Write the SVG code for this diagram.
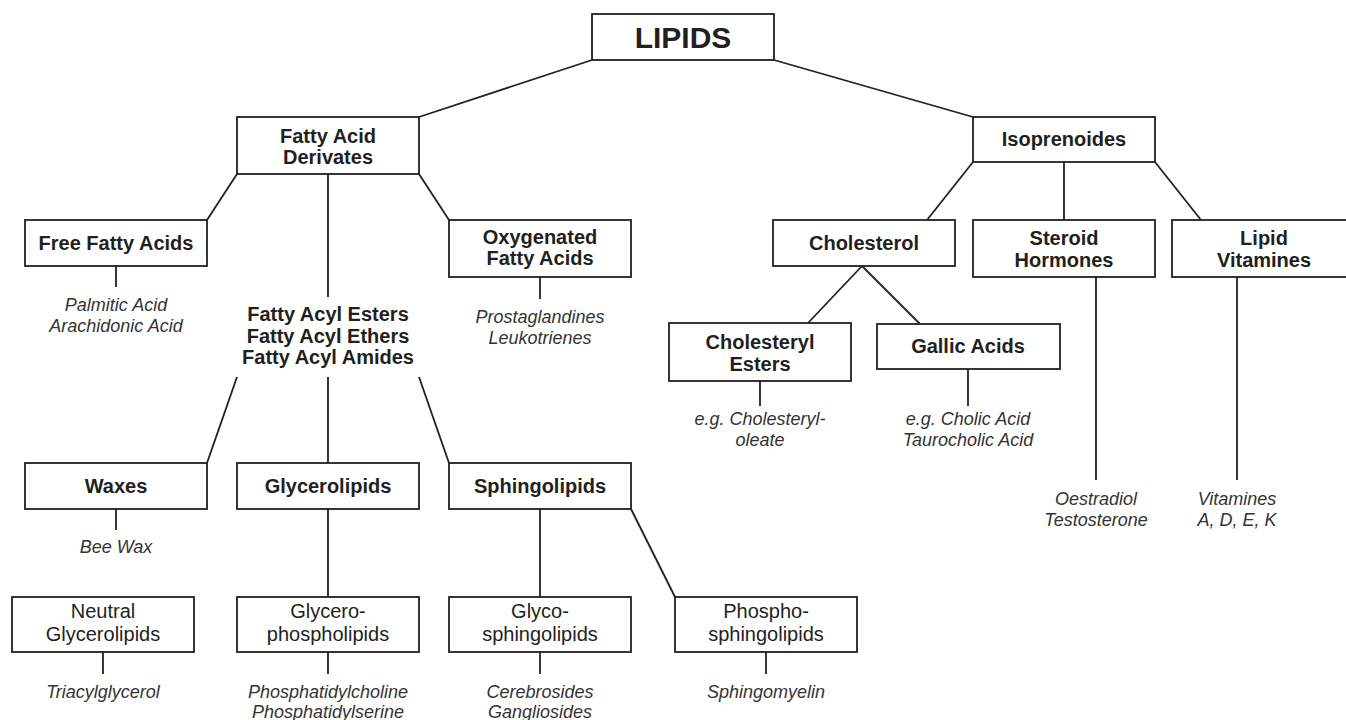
<svg xmlns="http://www.w3.org/2000/svg" width="1346" height="720" viewBox="0 0 1346 720">
<style>
rect.box{fill:#fff;stroke:#231f20;stroke-width:1.8}
#connectors line{stroke:#231f20;stroke-width:1.8}
text{font-family:"Liberation Sans",Arial,sans-serif;fill:#231f20;text-anchor:middle}
.b{font-weight:bold;font-size:20px}
.t{font-weight:bold;font-size:30px}
.r{font-size:20px}
.i{font-style:italic;font-size:18px;fill:#333}
</style>
<rect width="1346" height="720" fill="#fff"/>
<g id="connectors">
<line x1="592" y1="60" x2="419" y2="117"/>
<line x1="774" y1="60" x2="973" y2="117"/>
<line x1="237" y1="174" x2="207" y2="220"/>
<line x1="328" y1="174" x2="328" y2="297"/>
<line x1="419" y1="174" x2="449" y2="220"/>
<line x1="116" y1="266" x2="116" y2="287"/>
<line x1="540" y1="277" x2="540" y2="299"/>
<line x1="237" y1="377" x2="207" y2="463"/>
<line x1="328" y1="377" x2="328" y2="463"/>
<line x1="419" y1="377" x2="449" y2="463"/>
<line x1="116" y1="509" x2="116" y2="530"/>
<line x1="328" y1="509" x2="328" y2="597"/>
<line x1="540" y1="509" x2="540" y2="597"/>
<line x1="631" y1="509" x2="675" y2="597"/>
<line x1="103" y1="652" x2="103" y2="674"/>
<line x1="328" y1="652" x2="328" y2="674"/>
<line x1="540" y1="652" x2="540" y2="674"/>
<line x1="766" y1="652" x2="766" y2="674"/>
<line x1="973" y1="162" x2="927" y2="220"/>
<line x1="1064" y1="162" x2="1064" y2="220"/>
<line x1="1155" y1="162" x2="1201" y2="220"/>
<line x1="862" y1="266" x2="808" y2="323"/>
<line x1="862" y1="266" x2="920" y2="324"/>
<line x1="760" y1="381" x2="760" y2="406"/>
<line x1="968" y1="369" x2="968" y2="406"/>
<line x1="1096" y1="277" x2="1096" y2="480"/>
<line x1="1237" y1="277" x2="1237" y2="480"/>
</g>
<g id="lipids"><rect class="box" x="592" y="14" width="182" height="46"/><text class="t" x="683" y="48">LIPIDS</text></g>
<g id="fad"><rect class="box" x="237" y="117" width="182" height="57"/><text class="b" x="328" y="143">Fatty Acid</text><text class="b" x="328" y="164">Derivates</text></g>
<g id="iso"><rect class="box" x="973" y="117" width="182" height="45"/><text class="b" x="1064" y="146">Isoprenoides</text></g>
<g id="ffa"><rect class="box" x="25" y="220" width="182" height="46"/><text class="b" x="116" y="250">Free Fatty Acids</text></g>
<g id="ffa-ex"><text class="i" x="116" y="311">Palmitic Acid</text><text class="i" x="116" y="332">Arachidonic Acid</text></g>
<g id="oxy"><rect class="box" x="449" y="220" width="182" height="57"/><text class="b" x="540" y="244">Oxygenated</text><text class="b" x="540" y="265">Fatty Acids</text></g>
<g id="oxy-ex"><text class="i" x="540" y="323">Prostaglandines</text><text class="i" x="540" y="344">Leukotrienes</text></g>
<g id="acyl"><text class="b" x="328" y="321">Fatty Acyl Esters</text><text class="b" x="328" y="342.5">Fatty Acyl Ethers</text><text class="b" x="328" y="364">Fatty Acyl Amides</text></g>
<g id="chol"><rect class="box" x="773" y="220" width="182" height="46"/><text class="b" x="864" y="250">Cholesterol</text></g>
<g id="steroid"><rect class="box" x="973" y="220" width="182" height="57"/><text class="b" x="1064" y="245">Steroid</text><text class="b" x="1064" y="267">Hormones</text></g>
<g id="vit"><rect class="box" x="1172" y="220" width="184" height="57"/><text class="b" x="1264" y="245">Lipid</text><text class="b" x="1264" y="267">Vitamines</text></g>
<g id="ce"><rect class="box" x="669" y="323" width="182" height="58"/><text class="b" x="760" y="349">Cholesteryl</text><text class="b" x="760" y="371">Esters</text></g>
<g id="ce-ex"><text class="i" x="760" y="425">e.g. Cholesteryl-</text><text class="i" x="760" y="446">oleate</text></g>
<g id="gallic"><rect class="box" x="877" y="324" width="183" height="45"/><text class="b" x="968" y="353">Gallic Acids</text></g>
<g id="gallic-ex"><text class="i" x="968" y="425">e.g. Cholic Acid</text><text class="i" x="968" y="446">Taurocholic Acid</text></g>
<g id="steroid-ex"><text class="i" x="1096" y="505">Oestradiol</text><text class="i" x="1096" y="526">Testosterone</text></g>
<g id="vit-ex"><text class="i" x="1237" y="505">Vitamines</text><text class="i" x="1237" y="526">A, D, E, K</text></g>
<g id="waxes"><rect class="box" x="25" y="463" width="182" height="46"/><text class="b" x="116" y="493">Waxes</text></g>
<g id="waxes-ex"><text class="i" x="116" y="553">Bee Wax</text></g>
<g id="glycerolipids"><rect class="box" x="237" y="463" width="182" height="46"/><text class="b" x="328" y="493">Glycerolipids</text></g>
<g id="sphingolipids"><rect class="box" x="449" y="463" width="182" height="46"/><text class="b" x="540" y="493">Sphingolipids</text></g>
<g id="neutral"><rect class="box" x="12" y="597" width="182" height="55"/><text class="r" x="103" y="618">Neutral</text><text class="r" x="103" y="641">Glycerolipids</text></g>
<g id="neutral-ex"><text class="i" x="103" y="698">Triacylglycerol</text></g>
<g id="gpl"><rect class="box" x="237" y="597" width="182" height="55"/><text class="r" x="328" y="618">Glycero-</text><text class="r" x="328" y="641">phospholipids</text></g>
<g id="gpl-ex"><text class="i" x="328" y="698">Phosphatidylcholine</text><text class="i" x="328" y="718">Phosphatidylserine</text></g>
<g id="gsl"><rect class="box" x="449" y="597" width="182" height="55"/><text class="r" x="540" y="618">Glyco-</text><text class="r" x="540" y="641">sphingolipids</text></g>
<g id="gsl-ex"><text class="i" x="540" y="698">Cerebrosides</text><text class="i" x="540" y="718">Gangliosides</text></g>
<g id="psl"><rect class="box" x="675" y="597" width="182" height="55"/><text class="r" x="766" y="618">Phospho-</text><text class="r" x="766" y="641">sphingolipids</text></g>
<g id="psl-ex"><text class="i" x="766" y="698">Sphingomyelin</text></g>
</svg>
